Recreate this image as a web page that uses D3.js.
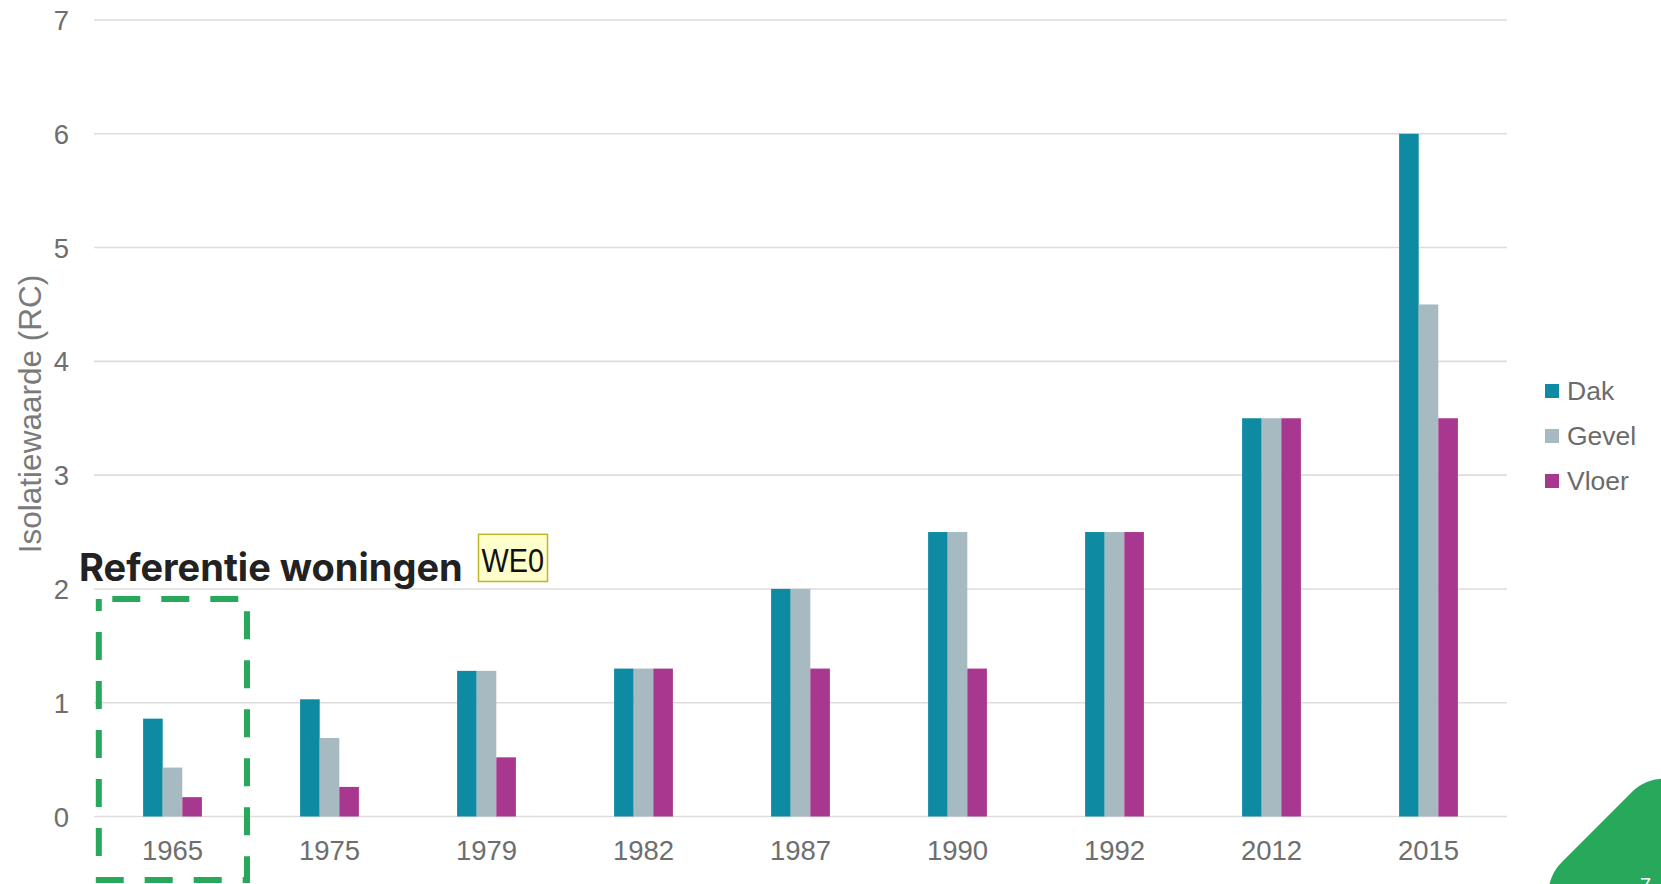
<!DOCTYPE html>
<html>
<head>
<meta charset="utf-8">
<script src="https://cdn.jsdelivr.net/npm/d3@7"></script>
<style>
  html, body { margin: 0; padding: 0; background: #fff; }
  svg { display: block; }
</style>
</head>
<body>
<svg id="chart" width="1661" height="884"></svg>
<script>
const categories = ["1965", "1975", "1979", "1982", "1987", "1990", "1992", "2012", "2015"];
const seriesNames = ["Dak", "Gevel", "Vloer"];
const dak   = [0.86, 1.03, 1.28, 1.3, 2.0, 2.5, 2.5, 3.5, 6.0];
const gevel = [0.43, 0.69, 1.28, 1.3, 2.0, 2.5, 2.5, 3.5, 4.5];
const vloer = [0.17, 0.26, 0.52, 1.3, 1.3, 1.3, 2.5, 3.5, 3.5];
const yTicks = [0, 1, 2, 3, 4, 5, 6, 7];
const colors = ["#0F8AA3", "#A7BAC1", "#A8388F"];

const seriesValues = [dak, gevel, vloer];

(function () {
const svg = d3.select("#chart");
const pLeft = 94, pRight = 1507, pTop = 20, pBottom = 816.5;

const x = d3.scaleBand().domain(categories).range([pLeft, pRight]).paddingInner(0).paddingOuter(0);
const groupW = 58.8;
const xs = d3.scaleBand().domain(seriesNames).range([0, groupW]);
const y = d3.scaleLinear().domain([0, 7]).range([pBottom, pTop]);

// gridlines
svg.append("g")
  .selectAll("line").data(yTicks).join("line")
  .attr("x1", pLeft).attr("x2", pRight)
  .attr("y1", d => y(d)).attr("y2", d => y(d))
  .attr("stroke", "#DDDDDD").attr("stroke-width", 1.6);

// y tick labels
const yAxis = d3.axisLeft(y).tickValues(yTicks).tickSize(0).tickPadding(0).tickFormat(d3.format("d"));
const yg = svg.append("g").attr("transform", `translate(69,0)`).call(yAxis);
yg.select(".domain").remove();
yg.selectAll("text").attr("font-family", "Liberation Sans, Arial, sans-serif")
  .attr("font-size", 27.5).attr("fill", "#6E6E6E").attr("dy", "0.35em");

// x labels
const xAxis = d3.axisBottom(x).tickSize(0).tickPadding(0);
const xg = svg.append("g").attr("transform", `translate(0,${pBottom})`).call(xAxis);
xg.select(".domain").remove();
xg.selectAll("text").attr("font-family", "Liberation Sans, Arial, sans-serif")
  .attr("font-size", 27.5).attr("fill", "#6E6E6E").attr("dy", null).attr("y", 43);

// bars
const groups = svg.append("g").selectAll("g").data(categories).join("g")
  .attr("transform", c => `translate(${x(c) + x.bandwidth() / 2 - groupW / 2},0)`);
groups.selectAll("rect")
  .data((c, i) => seriesNames.map((s, k) => ({ s, v: seriesValues[k][i], k })))
  .join("rect")
  .attr("x", d => xs(d.s))
  .attr("width", xs.bandwidth())
  .attr("y", d => y(d.v))
  .attr("height", d => y(0) - y(d.v))
  .attr("fill", d => colors[d.k]);

// y axis title
svg.append("text")
  .attr("transform", `translate(41,414) rotate(-90)`)
  .attr("text-anchor", "middle")
  .attr("font-family", "Liberation Sans, Arial, sans-serif")
  .attr("font-size", 31.5).attr("fill", "#7A7A7A")
  .text("Isolatiewaarde (RC)");

// legend
const lg = svg.append("g").selectAll("g").data(seriesNames).join("g")
  .attr("transform", (d, i) => `translate(1545,${391 + i * 45})`);
lg.append("rect").attr("x", 0).attr("y", -7).attr("width", 14).attr("height", 14)
  .attr("fill", (d, i) => colors[i]);
lg.append("text").attr("x", 22).attr("dy", "0.35em")
  .attr("font-family", "Liberation Sans, Arial, sans-serif")
  .attr("font-size", 26.5).attr("fill", "#6B6B6B").text(d => d);

// dashed box
svg.append("rect").attr("x", 98.8).attr("y", 599).attr("width", 148.2).attr("height", 281)
  .attr("fill", "none").attr("stroke", "#27A85A").attr("stroke-width", 6)
  .attr("stroke-dasharray", "28 21").attr("stroke-dashoffset", 35.5);

// title
svg.append("text").attr("x", 79).attr("y", 581)
  .attr("font-family", "Inter, Roboto, sans-serif").attr("font-weight", 700)
  .attr("font-size", 38).attr("fill", "#222222").text("Referentie woningen");

// WE0 box
svg.append("rect").attr("x", 478.5).attr("y", 534.3).attr("width", 69).attr("height", 47.2)
  .attr("fill", "#FFFFCC").attr("stroke", "#BDB728").attr("stroke-width", 1.5);
svg.append("text").attr("x", 481.5).attr("y", 571.5)
  .attr("font-family", "Liberation Sans Narrow, Liberation Sans, sans-serif")
  .attr("font-size", 33).attr("fill", "#111").attr("textLength", 62.5)
  .attr("lengthAdjust", "spacingAndGlyphs").text("WE0");

// corner decoration
svg.append("rect").attr("transform", "translate(1664,760) rotate(45)")
  .attr("width", 400).attr("height", 190).attr("rx", 45).attr("fill", "#27A85A");
svg.append("text").attr("x", 1640).attr("y", 892)
  .attr("font-family", "Liberation Sans, Arial, sans-serif")
  .attr("font-size", 20).attr("fill", "#fff").text("7");
})();
</script>
</body>
</html>
